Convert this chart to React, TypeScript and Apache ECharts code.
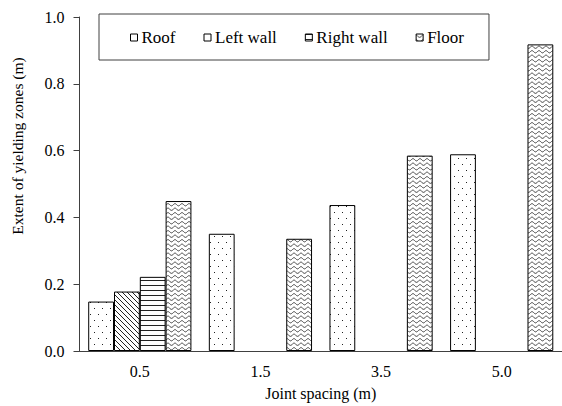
import React, { useEffect, useRef } from "react";
import * as echarts from "echarts";

// Joint spacing categories and yielding-zone extents (m) per location
const categories = ["0.5", "1.5", "3.5", "5.0"];
const roof = [0.148, 0.351, 0.437, 0.589];
const leftWall: (number | null)[] = [0.178, null, null, null];
const rightWall: (number | null)[] = [0.222, null, null, null];
const floor = [0.449, 0.336, 0.585, 0.918];
const yTicks = [0, 0.2, 0.4, 0.6, 0.8, 1.0];

const FONT = "Liberation Serif";

type Painter = (ctx: CanvasRenderingContext2D) => void;

// Builds a repeating hatch tile as an image pattern
function makePattern(w: number, h: number, paint: Painter) {
  const c = document.createElement("canvas");
  c.width = w;
  c.height = h;
  const ctx = c.getContext("2d") as CanvasRenderingContext2D;
  ctx.fillStyle = "#ffffff";
  ctx.fillRect(0, 0, w, h);
  ctx.fillStyle = "#222222";
  ctx.strokeStyle = "#222222";
  paint(ctx);
  return {
    image: c.toDataURL(),
    imageWidth: w,
    imageHeight: h,
    repeat: "repeat" as const,
  };
}

function buildPatterns() {
  const dots = makePattern(8, 12, (ctx) => {
    ctx.fillRect(2, 2, 1, 1);
    ctx.fillRect(6, 8, 1, 1);
  });
  const diagonal = makePattern(5, 5, (ctx) => {
    for (let i = 0; i < 5; i++) ctx.fillRect(i, i, 1, 1);
  });
  const horizontal = makePattern(5, 5, (ctx) => {
    ctx.fillRect(0, 0, 5, 1);
  });
  const wave = makePattern(7, 9, (ctx) => {
    ctx.lineWidth = 0.9;
    [2.25, 6.75].forEach((cy) => {
      ctx.beginPath();
      for (let x = -1; x <= 8; x += 0.25) {
        const y = cy - 1.1 * Math.cos((2 * Math.PI * x) / 7);
        if (x === -1) ctx.moveTo(x, y);
        else ctx.lineTo(x, y);
      }
      ctx.stroke();
    });
  });
  return { dots, diagonal, horizontal, wave };
}

export default function App() {
  const ref = useRef<HTMLDivElement>(null);

  useEffect(() => {
    if (!ref.current) return;
    const chart = echarts.init(ref.current, undefined, { renderer: "svg" });
    const p = buildPatterns();

    const barSeries = (name: string, data: (number | null)[], fill: any) => ({
      name,
      type: "bar",
      data,
      barWidth: 25.8,
      barGap: "0%",
      itemStyle: { color: fill, borderColor: "#000000", borderWidth: 1 },
      emphasis: { disabled: true },
    });

    chart.setOption({
      animation: false,
      backgroundColor: "#ffffff",
      textStyle: { fontFamily: FONT },
      grid: { left: 79.5, right: -3, top: 17, bottom: 55 },
      legend: {
        left: 99,
        top: 14,
        padding: [15, 25, 14, 31],
        borderColor: "#404040",
        borderWidth: 1,
        itemWidth: 7,
        itemHeight: 7,
        itemGap: 28,
        icon: "rect",
        data: [
          { name: "Roof", itemStyle: { color: "#ffffff" } },
          { name: "Left wall", itemStyle: { color: "#ffffff" } },
          { name: "Right wall" },
          { name: "Floor" },
        ],
        textStyle: { fontFamily: FONT, fontSize: 17, color: "#000000", padding: [0, 0, 0, -1] },
        itemStyle: { borderColor: "#000000", borderWidth: 1 },
        selectedMode: false,
      },
      xAxis: {
        type: "category",
        data: categories,
        name: "Joint spacing (m)",
        nameLocation: "middle",
        nameGap: 34,
        nameTextStyle: { fontFamily: FONT, fontSize: 16, color: "#000000" },
        axisLine: { lineStyle: { color: "#404040", width: 1 } },
        axisTick: { show: false },
        axisLabel: { fontFamily: FONT, fontSize: 16, color: "#000000", margin: 12 },
      },
      yAxis: {
        type: "value",
        min: yTicks[0],
        max: yTicks[yTicks.length - 1],
        interval: 0.2,
        axisLine: { show: true, lineStyle: { color: "#404040", width: 1 } },
        axisTick: { show: true, inside: false, length: 6, lineStyle: { color: "#404040" } },
        splitLine: { show: false },
        axisLabel: {
          fontFamily: FONT,
          fontSize: 16,
          color: "#000000",
          margin: 15,
          formatter: (v: number) => v.toFixed(1),
        },
      },
      graphic: [
        {
          type: "text",
          x: 17,
          y: 146,
          rotation: Math.PI / 2,
          style: {
            text: "Extent of yielding zones (m)",
            fontFamily: FONT,
            fontSize: 15.5,
            fill: "#000000",
            align: "center",
            verticalAlign: "middle",
          },
        },
      ],
      series: [
        barSeries("Roof", roof, p.dots),
        barSeries("Left wall", leftWall, p.diagonal),
        barSeries("Right wall", rightWall, p.horizontal),
        barSeries("Floor", floor, p.wave),
      ],
    });

    return () => chart.dispose();
  }, []);

  return (
    <div
      ref={ref}
      style={{ position: "absolute", left: 0, top: 0, width: 562, height: 406 }}
    />
  );
}
